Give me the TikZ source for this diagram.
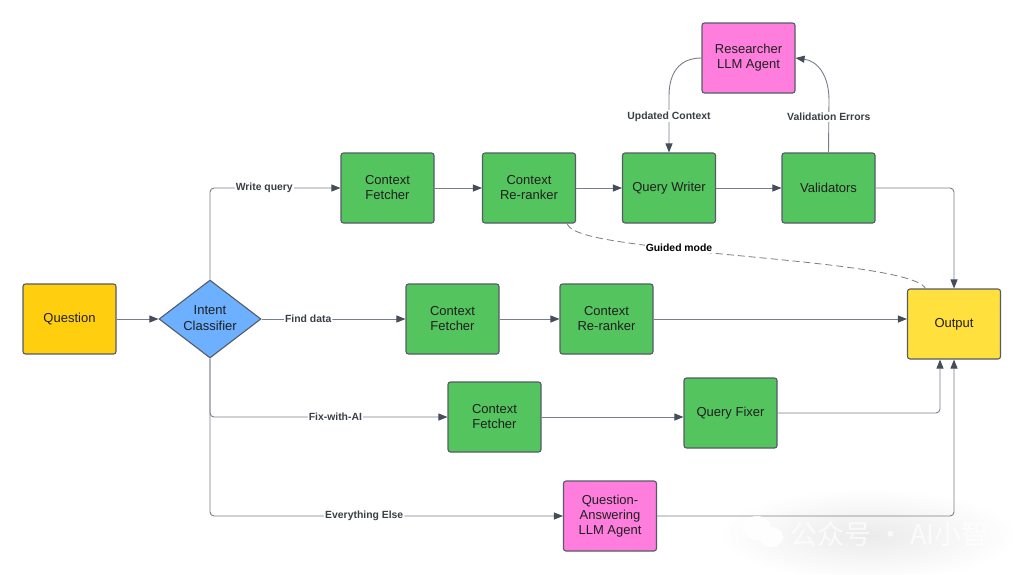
\documentclass[tikz,border=0pt]{standalone}
\usepackage{fontspec}
\setmainfont{Liberation Sans}
\newfontfamily\cjk{Noto Sans CJK SC}
\usetikzlibrary{arrows.meta,shapes.geometric,calc}
\definecolor{linegray}{HTML}{787E88}
\definecolor{tipgray}{HTML}{454C5A}
\definecolor{edgegray}{HTML}{555B66}
\definecolor{cgreen}{HTML}{54C45E}
\definecolor{cyellow}{HTML}{FFCF0F}
\definecolor{cout}{HTML}{FFE03C}
\definecolor{cblue}{HTML}{6CB0FF}
\definecolor{cpink}{HTML}{FF7EDD}
\definecolor{labelgray}{HTML}{3A3F48}
\tikzset{
  x=1pt,y=-1pt,
  boxbase/.style={draw=edgegray,line width=1.1pt,rounded corners=2.5pt,minimum width=93pt,minimum height=70pt,inner sep=0pt,align=center,font=\fontsize{13}{15}\selectfont,text=black!88},
  greenbox/.style={boxbase,fill=cgreen},
  yellowbox/.style={boxbase,fill=cyellow},
  outbox/.style={boxbase,fill=cout},
  pinkbox/.style={boxbase,fill=cpink},
  decision/.style={diamond,aspect=1.3,draw=edgegray,line width=1.1pt,fill=cblue,minimum width=102pt,minimum height=78pt,inner sep=0pt,align=center,font=\fontsize{13}{15}\selectfont,text=black!88},
  conn/.style={draw=linegray,line width=0.9pt,rounded corners=4pt,-{Triangle[length=9pt,width=7pt,color=tipgray]}},
  dashconn/.style={draw=linegray,line width=0.8pt,dash pattern=on 7pt off 4pt},
  lbl/.style={fill=white,inner xsep=1pt,inner ysep=1pt,font=\fontsize{10.4}{12}\selectfont\bfseries,text=labelgray},
  lblblack/.style={lbl,text=black},
}
\begin{document}
\begin{tikzpicture}
\useasboundingbox (0,0) rectangle (1024,574);
\fill[white] (0,0) rectangle (1024,574);
% watermark haze
\shade[inner color=black!8,outer color=white,draw=none] (868,535) ellipse [x radius=150pt,y radius=46pt];

\node[yellowbox] (question) at (69.5,319) {Question};
\node[decision] (intent) at (210,319) {\raisebox{2.5pt}{Intent}\\[-0.5pt]\raisebox{1.5pt}{Classifier}};
\node[greenbox] (cf1) at (387.5,188) {Context\\Fetcher};
\node[greenbox] (rr1) at (529,188) {Context\\Re-ranker};
\node[greenbox] (qw) at (669,188) {Query Writer};
\node[greenbox] (val) at (828.5,188) {Validators};
\node[pinkbox] (res) at (748.5,58) {Researcher\\LLM Agent};
\node[outbox] (out) at (954,324) {Output};
\node[greenbox] (cf2) at (452.5,319) {Context\\Fetcher};
\node[greenbox] (rr2) at (606.5,319) {Context\\Re-ranker};
\node[greenbox] (cf3) at (494.5,417) {Context\\Fetcher};
\node[greenbox] (qf) at (730.5,413) {Query Fixer};
\node[pinkbox] (qa) at (610,516) {Question-\\Answering\\LLM Agent};

\draw[conn] (question) -- (intent);
\draw[conn] (intent.north) |- node[lbl,pos=0.708] {Write query} (cf1.west);
\draw[conn] (cf1) -- (rr1);
\draw[conn] (rr1) -- (qw);
\draw[conn] (qw) -- (val);
\draw[conn] (val.east) -| (out.north);
\draw[conn] (intent.east) -- node[lbl,pos=0.324] {Find data} (cf2.west);
\draw[conn] (cf2) -- (rr2);
\draw[conn] (rr2) -- (out.west |- rr2);
\draw[conn] (intent.south) |- node[lbl,pos=0.764] {Fix-with-AI} (cf3.west);
\draw[conn] (cf3) -- (qf.west |- cf3);
\coordinate (outfix) at ($(out.south)+(-14,0)$);
\draw[conn] (qf.east) -| (outfix);
\draw[conn] (intent.south) |- node[lbl,pos=0.7185] {Everything Else} (qa.west);
\draw[conn] (qa.east) -| (out.south);

\draw[conn,rounded corners=0pt] (res.west) .. controls (680,58) and (669,72) .. (669,96) -- node[lbl,pos=0.36] {Updated Context} (qw.north);
\draw[conn,rounded corners=0pt] (val.north) -- node[lbl,pos=0.68] {Validation Errors} (829,100) .. controls (829,76) and (818,61) .. (res.east);

\coordinate (rrdash) at ($(rr1.south east)+(-9,0)$);
\coordinate (outdash) at ($(out.north west)+(18.5,0)$);
\draw[dashconn] (rrdash) .. controls (572,236) and (610,241) .. (679,249.5)
   .. controls (760,259) and (915,268) .. (outdash);
\node[lblblack] (guided) at (679,248) {Guided mode};

% watermark
\fill[white,opacity=.85] (757,528) ellipse [x radius=14pt,y radius=12pt];
\fill[white,opacity=.95] (771,537) ellipse [x radius=12pt,y radius=10pt];
\node[text=white,font=\cjk\fontsize{27}{30}\selectfont,anchor=west,inner sep=0pt,opacity=.7] (wm) at (790,534) {公众号 · AI小智};
\end{tikzpicture}
\end{document}
